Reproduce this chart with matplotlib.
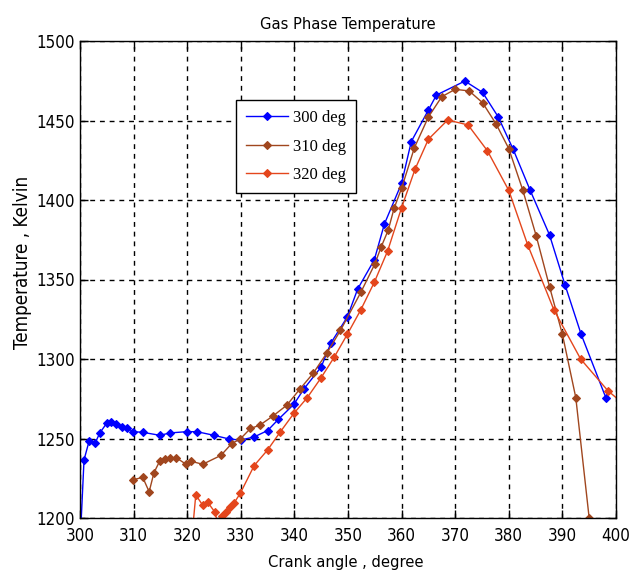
import matplotlib
matplotlib.use("Agg")
import matplotlib.pyplot as plt
from matplotlib import font_manager

# Crank angle (degree) and gas temperature (K) for three injection timings
angle_300 = [300.1, 300.75, 301.7, 302.8, 303.7, 305.0, 305.8, 306.7, 307.8, 308.8,
             309.9, 311.7, 314.9, 316.8, 319.9, 321.8, 325.0, 327.8, 330.0, 332.5,
             335.0, 337.0, 339.9, 341.8, 345.0, 346.8, 349.9, 351.8, 354.9, 356.8,
             360.0, 361.8, 365.0, 366.5, 371.8, 375.1, 378.0, 380.8, 384.0, 387.6,
             390.5, 393.5, 398.1]
temp_300 = [1190, 1236.5, 1248.4, 1247, 1253.5, 1259.7, 1260.6, 1259, 1257.4, 1256.6,
            1254.3, 1253.9, 1252, 1253.5, 1254.3, 1254.3, 1252, 1249.7, 1249, 1251,
            1255, 1262, 1271.5, 1281.3, 1295, 1310, 1326.6, 1344, 1362.3, 1385,
            1410.5, 1436.7, 1456.6, 1466, 1474.8, 1467.7, 1452.4, 1432, 1406, 1378,
            1346.5, 1315.5, 1275.7]

angle_310 = [309.9, 311.7, 312.9, 313.8, 314.9, 315.9, 316.8, 317.9, 319.8, 320.8,
             322.9, 326.3, 328.3, 329.9, 331.8, 333.5, 336.1, 338.6, 341.0, 343.5,
             346.1, 348.6, 352.4, 355.0, 356.2, 357.5, 358.6, 360.0, 362.4, 365.0,
             367.5, 370.0, 372.6, 375.1, 377.6, 380.0, 382.6, 385.1, 387.6, 390.0,
             392.5, 395.0]
temp_310 = [1224, 1225.6, 1216.5, 1228.5, 1236, 1237, 1237.5, 1238, 1233.8, 1235.6,
            1233.8, 1239.4, 1246.8, 1249.7, 1256.3, 1258.3, 1264.4, 1271, 1281, 1291,
            1304, 1318, 1342, 1359.7, 1370.6, 1381, 1394.8, 1407.4, 1433, 1452.2,
            1465, 1469.6, 1468.6, 1461.2, 1448, 1432.3, 1406.3, 1377.6, 1345.5, 1315.5,
            1275.7, 1199.8]

angle_320 = [320.8, 321.6, 322.9, 323.8, 325.1, 325.8, 326.4, 327.2, 328.0, 328.7,
             329.9, 332.5, 335.0, 337.4, 339.9, 342.4, 344.9, 347.4, 349.9, 352.4,
             354.9, 357.4, 360.0, 362.5, 365.0, 368.6, 372.4, 376.0, 380.0, 383.5,
             388.4, 393.4, 398.5, 401.5]
temp_320 = [1185, 1214.5, 1208, 1210, 1204, 1196, 1201.3, 1204, 1206.7, 1209.2,
            1215.5, 1233, 1242.8, 1254.3, 1265.8, 1275.7, 1287.8, 1301, 1315.7, 1331,
            1348.2, 1368, 1395.2, 1419.3, 1438.2, 1450.3, 1447.2, 1431, 1406, 1372,
            1331, 1300, 1280, 1271.5]

series_labels = ["300 deg", "310 deg", "320 deg"]
series_colors = ["#0000FF", "#A0461E", "#E4461C"]

x_ticks = list(range(300, 401, 10))
y_ticks = list(range(1200, 1501, 50))

installed = {f.name for f in font_manager.fontManager.ttflist}
serif = "Liberation Serif" if "Liberation Serif" in installed else "DejaVu Serif"

# narrow sans for axis text: prefer a condensed face when one exists
narrow_path = None
for f in font_manager.fontManager.ttflist:
    if f.name in ("Liberation Sans Narrow", "DejaVu Sans Condensed") or \
            (f.name == "DejaVu Sans" and "Condensed" in f.fname and "Bold" not in f.fname
             and "Oblique" not in f.fname):
        narrow_path = f.fname
        break


def axis_font(size):
    if narrow_path is not None:
        return font_manager.FontProperties(fname=narrow_path, size=size)
    return font_manager.FontProperties(family="DejaVu Sans", size=size * 0.88)


plt.rcParams["font.family"] = ["DejaVu Sans"]

fig = plt.figure(figsize=(6.42, 5.76), dpi=100)
ax = fig.add_axes([80 / 642, 1 - 518 / 576, 536 / 642, 477 / 576])

for xs, ys, lab, col in zip([angle_300, angle_310, angle_320],
                            [temp_300, temp_310, temp_320],
                            series_labels, series_colors):
    ax.plot(xs, ys, color=col, lw=1.0, marker="D", ms=3.8,
            markeredgewidth=0.8, markeredgecolor=col, markerfacecolor=col,
            label=lab)

ax.set_xlim(300, 400)
ax.set_ylim(1200, 1500)
ax.set_xticks(x_ticks)
ax.set_yticks(y_ticks)
ax.tick_params(direction="in", top=True, right=True, length=6, width=1)
ax.tick_params(axis="x", pad=6.5)
ax.tick_params(axis="y", pad=3.5)
for lbl in ax.get_xticklabels() + ax.get_yticklabels():
    lbl.set_fontproperties(axis_font(12.2))
ax.grid(True, color="black", linestyle=(0, (3.5, 3.5)), linewidth=1.0)
for s in ax.spines.values():
    s.set_linewidth(1.0)
    s.set_color("black")

ax.set_title("Gas Phase Temperature", fontproperties=axis_font(11.8), pad=9)
ax.set_xlabel("Crank angle , degree", fontproperties=axis_font(11.8))
ax.xaxis.set_label_coords((346 - 80) / 536, (518 - 563) / 477)
ax.xaxis.label.set_va("center")
ax.set_ylabel("Temperature , Kelvin", fontproperties=axis_font(13.5))
ax.yaxis.set_label_coords((22 - 80) / 536, (518 - 262) / 477)
ax.yaxis.label.set_va("center")

leg = ax.legend(loc="upper left", bbox_to_anchor=(0.291, 0.876),
                prop={"family": serif, "size": 12}, frameon=True,
                fancybox=False, edgecolor="black", framealpha=1,
                numpoints=1, handlelength=2.5, labelspacing=0.75,
                borderpad=0.6, handletextpad=0.3, borderaxespad=0)
leg.get_frame().set_linewidth(1.0)

fig.savefig("out.png", dpi=100, facecolor="white")
